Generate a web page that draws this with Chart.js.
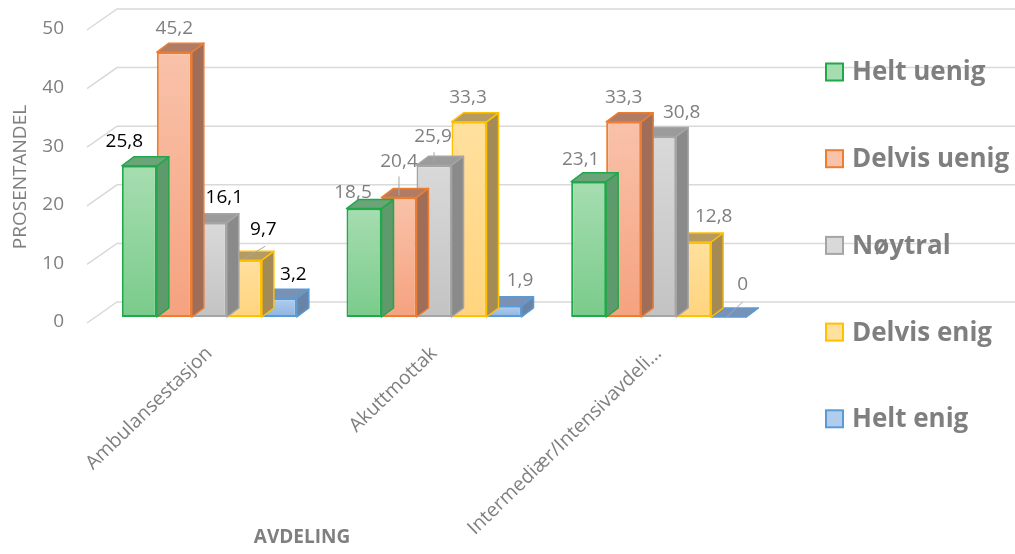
<!DOCTYPE html>
<html lang="no">
<head>
<meta charset="utf-8">
<title>Avdeling</title>
<script src="https://cdn.jsdelivr.net/npm/chart.js@4.4.1/dist/chart.umd.min.js"></script>
<style>
  html, body { margin: 0; padding: 0; background: #fff; }
  #wrap { width: 1015px; height: 554px; }
</style>
</head>
<body>
<div id="wrap"><canvas id="chart" width="1015" height="554"></canvas></div>
<script>
// kategorier og verdier (prosent)
const categories = ['Ambulansestasjon', 'Akuttmottak', 'Intermediær/Intensivavdeli…'];
const seriesNames = ['Helt uenig', 'Delvis uenig', 'Nøytral', 'Delvis enig', 'Helt enig'];
const heltUenig = [25.8, 18.5, 23.1];
const delvisUenig = [45.2, 20.4, 33.3];
const noytral = [16.1, 25.9, 30.8];
const delvisEnig = [9.7, 33.3, 12.8];
const heltEnig = [3.2, 1.9, 0];
const yTicks = [0, 10, 20, 30, 40, 50];

const seriesValues = [heltUenig, delvisUenig, noytral, delvisEnig, heltEnig];

// farger: kant, lys topp, mørk bunn, side, tak
const colors = [
  { line: '#21a84a', light: '#a6ddb0', dark: '#7acb8b', side: '#5e9a6c', cap: '#6aa478' },
  { line: '#ed7d31', light: '#f9c2aa', dark: '#f5a27f', side: '#a06d59', cap: '#b07c66' },
  { line: '#a5a5a5', light: '#d9d9d9', dark: '#c3c3c3', side: '#8a8a8a', cap: '#9b9b9b' },
  { line: '#ffc000', light: '#ffe09e', dark: '#ffd47e', side: '#a48a55', cap: '#b59b62' },
  { line: '#5b9bd5', light: '#b0cdee', dark: '#8fb4e2', side: '#6a84a6', cap: '#7891b4' }
];

const GRAY = '#7f7f7f';
const FONT = "'Open Sans', sans-serif";

// dybde på søylene og bakveggen
const DEPTH_X = 12, DEPTH_Y = -9;
const WALL_X = 20, WALL_Y = -15;

// plassering av verdietiketter i forhold til toppen av søylen
const labelShift = [
  [[-15, -24], [-11, -16], [-8, -22]],
  [[0, -24], [0, -36], [0, -24]],
  [[15, -25], [-1, -29], [23, -24]],
  [[19, -31], [-1, -24], [20, -25]],
  [[14, -24], [16, -25], [14, -32]]
];
const labelInk = [
  ['#000', GRAY, GRAY],
  [GRAY, GRAY, GRAY],
  ['#000', GRAY, GRAY],
  ['#000', GRAY, GRAY],
  ['#000', GRAY, GRAY]
];
// små hjelpelinjer fra etikett til søyle
const leaders = [
  { s: 3, c: 0, from: [-1, -1], to: [21, -14] },
  { s: 1, c: 1, from: [0, -21], to: [0, -2] },
  { s: 2, c: 1, from: [0, -13], to: [0, -3] },
  { s: 4, c: 2, from: [-2, 0], to: [14, -15] }
];

const fmt = v => String(v).replace('.', ',');

// bakvegg og sidevegg med rutenett
const wallPlugin = {
  id: 'wall',
  beforeDatasetsDraw(chart) {
    const { ctx, chartArea, scales } = chart;
    ctx.save();
    ctx.strokeStyle = '#d9d9d9';
    ctx.lineWidth = 1.5;
    yTicks.forEach(v => {
      const y = scales.y.getPixelForValue(v);
      ctx.beginPath();
      ctx.moveTo(chartArea.left - 10, y + 6);
      ctx.lineTo(chartArea.left + WALL_X, y + WALL_Y);
      ctx.lineTo(chart.width, y + WALL_Y);
      ctx.stroke();
    });
    ctx.restore();
  }
};

// tak og høyre side for hver søyle, tegnes før forsiden
const depthPlugin = {
  id: 'depth',
  beforeDatasetDraw(chart, args) {
    const { ctx } = chart;
    const col = colors[args.index];
    ctx.save();
    ctx.lineWidth = 1.5;
    ctx.strokeStyle = col.line;
    ctx.lineJoin = 'round';
    args.meta.data.forEach(bar => {
      const x1 = bar.x - bar.width / 2, x2 = bar.x + bar.width / 2;
      const top = bar.y, base = bar.base;
      // side
      ctx.beginPath();
      ctx.moveTo(x2, top);
      ctx.lineTo(x2 + DEPTH_X, top + DEPTH_Y);
      ctx.lineTo(x2 + DEPTH_X, base + DEPTH_Y);
      ctx.lineTo(x2, base);
      ctx.closePath();
      ctx.fillStyle = col.side;
      ctx.fill();
      ctx.stroke();
      // tak
      ctx.beginPath();
      ctx.moveTo(x1, top);
      ctx.lineTo(x1 + DEPTH_X, top + DEPTH_Y);
      ctx.lineTo(x2 + DEPTH_X, top + DEPTH_Y);
      ctx.lineTo(x2, top);
      ctx.closePath();
      ctx.fillStyle = col.cap;
      ctx.fill();
      ctx.stroke();
    });
    ctx.restore();
  }
};

// verdietiketter, akse-titler og forklaring
const textPlugin = {
  id: 'texts',
  afterDraw(chart) {
    const { ctx } = chart;
    ctx.save();

    ctx.strokeStyle = '#a6a6a6';
    ctx.lineWidth = 1;
    leaders.forEach(l => {
      const bar = chart.getDatasetMeta(l.s).data[l.c];
      ctx.beginPath();
      ctx.moveTo(bar.x + l.from[0], bar.y + l.from[1]);
      ctx.lineTo(bar.x + l.to[0], bar.y + l.to[1]);
      ctx.stroke();
    });

    ctx.font = `19px ${FONT}`;
    ctx.textAlign = 'center';
    ctx.textBaseline = 'middle';
    chart.data.datasets.forEach((ds, s) => {
      chart.getDatasetMeta(s).data.forEach((bar, c) => {
        const [dx, dy] = labelShift[s][c];
        ctx.fillStyle = labelInk[s][c];
        ctx.fillText(fmt(ds.data[c]), bar.x + dx, bar.y + dy);
      });
    });

    // aksetitler
    ctx.fillStyle = GRAY;
    ctx.font = `19px ${FONT}`;
    ctx.save();
    ctx.translate(21, 177);
    ctx.rotate(-Math.PI / 2);
    ctx.fillText('PROSENTANDEL', 0, 0);
    ctx.restore();
    ctx.font = `bold 19px ${FONT}`;
    ctx.fillText('AVDELING', 302, 538);

    // forklaring
    ctx.font = `bold 26px ${FONT}`;
    ctx.textAlign = 'left';
    seriesNames.forEach((name, i) => {
      const y = 72 + i * 86.7;
      ctx.fillStyle = colors[i].light;
      ctx.fillRect(826, y - 8.5, 17, 17);
      ctx.strokeStyle = colors[i].line;
      ctx.lineWidth = 2;
      ctx.strokeRect(826, y - 8.5, 17, 17);
      ctx.fillStyle = GRAY;
      ctx.fillText(name, 852, y + 1);
    });
    ctx.restore();
  }
};

// forsiden får en loddrett gradient fra lys topp til mørkere bunn
const frontFill = (i) => (context) => {
  const chart = context.chart;
  const y = chart.scales && chart.scales.y;
  if (!y || typeof context.raw !== 'number') return colors[i].light;
  const top = y.getPixelForValue(context.raw);
  const base = y.getPixelForValue(0);
  if (!isFinite(top) || !isFinite(base) || base - top < 1) return colors[i].light;
  const g = chart.ctx.createLinearGradient(0, top, 0, base);
  g.addColorStop(0, colors[i].light);
  g.addColorStop(1, colors[i].dark);
  return g;
};

new Chart(document.getElementById('chart'), {
  type: 'bar',
  data: {
    labels: categories,
    datasets: seriesNames.map((name, i) => ({
      label: name,
      data: seriesValues[i],
      backgroundColor: frontFill(i),
      borderColor: colors[i].line,
      borderWidth: 2,
      borderSkipped: false,
      categoryPercentage: 0.779,
      barPercentage: 1
    }))
  },
  options: {
    responsive: false,
    devicePixelRatio: 1,
    animation: false,
    layout: { padding: { left: 0, top: 24, right: 244, bottom: 0 } },
    plugins: {
      legend: { display: false },
      tooltip: { enabled: false }
    },
    scales: {
      x: {
        grid: { display: false, drawTicks: false },
        border: { display: false },
        ticks: {
          autoSkip: false,
          minRotation: 44,
          maxRotation: 44,
          padding: 25,
          color: GRAY,
          font: { family: FONT, size: 19.5 }
        },
        afterFit(scale) {
          scale.height = 237;
          scale.paddingLeft = 0;
          scale.paddingRight = 0;
        }
      },
      y: {
        min: 0,
        max: 50,
        grid: { display: false, drawTicks: false },
        border: { display: false },
        afterBuildTicks(scale) { scale.ticks = yTicks.map(v => ({ value: v })); },
        ticks: {
          padding: 33,
          labelOffset: 5,
          color: '#808080',
          font: { family: FONT, size: 19 }
        },
        afterFit(scale) {
          scale.width = 97;
          scale.paddingTop = 0;
          scale.paddingBottom = 0;
        }
      }
    }
  },
  plugins: [wallPlugin, depthPlugin, textPlugin]
});
</script>
</body>
</html>
